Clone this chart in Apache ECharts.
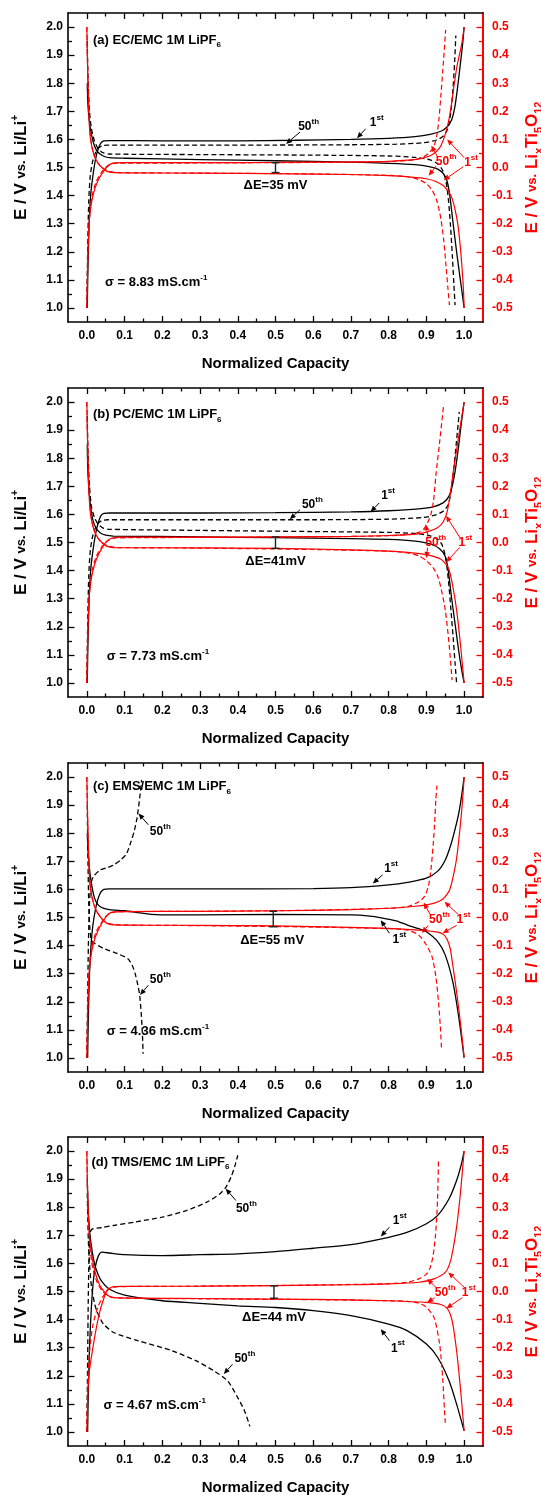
<!DOCTYPE html>
<html>
<head>
<meta charset="utf-8">
<script src="https://cdn.jsdelivr.net/npm/echarts@6/dist/echarts.min.js"></script>
<style>
html, body { margin: 0; padding: 0; background: #fff; }
#chart { width: 541px; height: 1495px; }
</style>
</head>
<body>
<div id="chart"></div>
<script>
// tick values
const xMajor = [0, 0.1, 0.2, 0.3, 0.4, 0.5, 0.6, 0.7, 0.8, 0.9, 1.0];
const xMinor = [0.05, 0.15, 0.25, 0.35, 0.45, 0.55, 0.65, 0.75, 0.85, 0.95];
const leftMajor = [1.0, 1.1, 1.2, 1.3, 1.4, 1.5, 1.6, 1.7, 1.8, 1.9, 2.0];
const leftMinor = [1.05, 1.15, 1.25, 1.35, 1.45, 1.55, 1.65, 1.75, 1.85, 1.95];
const rightMajor = [-0.5, -0.4, -0.3, -0.2, -0.1, 0, 0.1, 0.2, 0.3, 0.4, 0.5];
const rightMinor = [-0.45, -0.35, -0.25, -0.15, -0.05, 0.05, 0.15, 0.25, 0.35, 0.45];

const panelTags = ['(a) EC/EMC 1M LiPF', '(b) PC/EMC 1M LiPF', '(c) EMS/EMC 1M LiPF', '(d) TMS/EMC 1M LiPF'];
const sigmaValues = ['8.83', '7.73', '4.36', '4.67'];
const deltaLabels = ['35 mV', '41mV', '55 mV', '44 mV'];
// [x, low, high] of the dE bar
const deltaBars = [[0.5, 1.482, 1.517], [0.5, 1.479, 1.520], [0.494, 1.467, 1.522], [0.496, 1.476, 1.520]];

// ---- (a) EC/EMC ----  black: E vs Li/Li+, red: E vs LixTi5O12
const a_c1 = [[0.001,1.0],[0.003,1.15],[0.006,1.3],[0.01,1.4],[0.016,1.47],[0.023,1.53],[0.03,1.566],[0.037,1.587],[0.045,1.595],[0.06,1.596],[0.2,1.595],[0.4,1.595],[0.55,1.597],[0.7,1.6],[0.8,1.604],[0.87,1.61],[0.91,1.618],[0.94,1.63],[0.955,1.645],[0.967,1.67],[0.976,1.72],[0.984,1.8],[0.991,1.88],[0.996,1.94],[1.0,2.0]];
const a_d1 = [[0.001,1.8],[0.003,1.72],[0.008,1.65],[0.017,1.59],[0.026,1.56],[0.034,1.549],[0.045,1.54],[0.06,1.535],[0.1,1.533],[0.3,1.528],[0.5,1.524],[0.7,1.519],[0.8,1.515],[0.87,1.51],[0.91,1.502],[0.93,1.494],[0.945,1.478],[0.955,1.45],[0.962,1.4],[0.97,1.31],[0.98,1.2],[0.99,1.1],[1.0,1.0]];
const a_c50 = [[0.0,1.0],[0.002,1.2],[0.005,1.38],[0.009,1.47],[0.015,1.52],[0.022,1.55],[0.03,1.568],[0.04,1.577],[0.055,1.58],[0.2,1.58],[0.5,1.58],[0.7,1.581],[0.82,1.583],[0.89,1.588],[0.925,1.597],[0.945,1.612],[0.957,1.64],[0.965,1.7],[0.971,1.79],[0.975,1.88],[0.978,1.97]];
const a_d50 = [[0.001,1.95],[0.003,1.82],[0.007,1.7],[0.012,1.64],[0.02,1.595],[0.03,1.567],[0.042,1.553],[0.06,1.548],[0.3,1.546],[0.6,1.544],[0.8,1.541],[0.87,1.536],[0.91,1.527],[0.93,1.513],[0.943,1.49],[0.952,1.45],[0.958,1.39],[0.964,1.29],[0.969,1.18],[0.973,1.08],[0.976,1.01]];
const a_rc1 = [[0.0,-0.5],[0.002,-0.35],[0.004,-0.25],[0.007,-0.18],[0.013,-0.12],[0.021,-0.076],[0.03,-0.045],[0.04,-0.022],[0.052,0.0],[0.065,0.014],[0.09,0.017],[0.3,0.017],[0.5,0.018],[0.7,0.02],[0.8,0.022],[0.86,0.027],[0.89,0.033],[0.915,0.045],[0.935,0.07],[0.948,0.11],[0.958,0.16],[0.966,0.22],[0.973,0.29],[0.981,0.36],[0.989,0.41],[0.995,0.45],[1.0,0.5]];
const a_rd1 = [[0.0,0.5],[0.002,0.35],[0.004,0.25],[0.008,0.12],[0.014,0.07],[0.021,0.037],[0.03,0.015],[0.04,0.0],[0.052,-0.013],[0.07,-0.018],[0.3,-0.02],[0.5,-0.022],[0.7,-0.025],[0.8,-0.029],[0.86,-0.034],[0.9,-0.04],[0.925,-0.05],[0.945,-0.065],[0.958,-0.085],[0.968,-0.11],[0.976,-0.15],[0.983,-0.2],[0.989,-0.27],[0.994,-0.35],[0.998,-0.43],[1.0,-0.5]];
const a_rc50 = [[0.0,-0.5],[0.003,-0.3],[0.007,-0.18],[0.014,-0.1],[0.025,-0.05],[0.04,-0.015],[0.055,0.006],[0.075,0.015],[0.3,0.016],[0.6,0.018],[0.8,0.021],[0.86,0.026],[0.89,0.036],[0.905,0.05],[0.918,0.07],[0.927,0.11],[0.933,0.17],[0.938,0.25],[0.943,0.34],[0.947,0.41],[0.951,0.49]];
const a_rd50 = [[0.0,0.5],[0.003,0.3],[0.007,0.15],[0.014,0.07],[0.025,0.025],[0.04,0.0],[0.055,-0.012],[0.08,-0.018],[0.3,-0.02],[0.6,-0.023],[0.8,-0.028],[0.85,-0.033],[0.88,-0.043],[0.9,-0.058],[0.915,-0.08],[0.928,-0.12],[0.938,-0.18],[0.946,-0.26],[0.952,-0.35],[0.957,-0.43],[0.961,-0.49]];

// ---- (b) PC/EMC ----
const b_c1 = [[0.001,1.0],[0.003,1.15],[0.006,1.3],[0.01,1.4],[0.016,1.47],[0.023,1.53],[0.03,1.57],[0.037,1.595],[0.045,1.604],[0.06,1.605],[0.3,1.605],[0.5,1.606],[0.7,1.609],[0.8,1.613],[0.88,1.62],[0.92,1.628],[0.945,1.642],[0.96,1.665],[0.97,1.71],[0.978,1.77],[0.986,1.85],[0.993,1.93],[1.0,2.0]];
const b_d1 = [[0.001,1.85],[0.003,1.74],[0.008,1.65],[0.016,1.58],[0.025,1.55],[0.035,1.535],[0.05,1.526],[0.07,1.523],[0.3,1.52],[0.5,1.517],[0.7,1.514],[0.8,1.511],[0.87,1.505],[0.91,1.495],[0.935,1.478],[0.95,1.45],[0.958,1.4],[0.966,1.31],[0.975,1.22],[0.985,1.12],[0.993,1.05],[1.0,1.0]];
const b_c50 = [[0.0,1.0],[0.002,1.2],[0.005,1.38],[0.009,1.47],[0.015,1.52],[0.022,1.55],[0.03,1.568],[0.04,1.578],[0.055,1.581],[0.3,1.581],[0.6,1.581],[0.8,1.583],[0.89,1.589],[0.925,1.598],[0.945,1.612],[0.958,1.635],[0.966,1.69],[0.973,1.77],[0.979,1.85],[0.984,1.92],[0.987,1.965]];
const b_d50 = [[0.001,1.95],[0.003,1.82],[0.007,1.7],[0.012,1.63],[0.02,1.59],[0.03,1.565],[0.042,1.552],[0.06,1.547],[0.3,1.543],[0.6,1.539],[0.8,1.536],[0.87,1.532],[0.91,1.524],[0.93,1.512],[0.942,1.49],[0.951,1.445],[0.958,1.37],[0.965,1.26],[0.971,1.16],[0.976,1.07],[0.98,1.0]];
const b_rc1 = [[0.0,-0.5],[0.002,-0.35],[0.004,-0.25],[0.007,-0.18],[0.013,-0.12],[0.021,-0.076],[0.03,-0.045],[0.04,-0.02],[0.052,0.003],[0.065,0.015],[0.09,0.019],[0.3,0.019],[0.5,0.02],[0.7,0.022],[0.8,0.025],[0.87,0.03],[0.9,0.037],[0.93,0.053],[0.945,0.075],[0.955,0.11],[0.963,0.17],[0.971,0.25],[0.98,0.33],[0.99,0.416],[1.0,0.5]];
const b_rd1 = [[0.0,0.5],[0.002,0.35],[0.004,0.25],[0.008,0.12],[0.014,0.07],[0.021,0.037],[0.03,0.015],[0.04,0.0],[0.052,-0.013],[0.07,-0.018],[0.3,-0.019],[0.5,-0.021],[0.7,-0.026],[0.8,-0.031],[0.87,-0.038],[0.9,-0.043],[0.925,-0.052],[0.94,-0.061],[0.952,-0.078],[0.96,-0.097],[0.97,-0.156],[0.98,-0.24],[0.99,-0.36],[1.0,-0.5]];
const b_rc50 = [[0.0,-0.5],[0.003,-0.3],[0.007,-0.18],[0.014,-0.1],[0.025,-0.05],[0.04,-0.015],[0.055,0.006],[0.075,0.016],[0.3,0.018],[0.6,0.02],[0.8,0.024],[0.86,0.03],[0.88,0.036],[0.893,0.048],[0.903,0.07],[0.912,0.1],[0.919,0.15],[0.925,0.237],[0.935,0.357],[0.945,0.482]];
const b_rd50 = [[0.0,0.5],[0.003,0.3],[0.007,0.15],[0.014,0.07],[0.025,0.025],[0.04,0.0],[0.055,-0.012],[0.08,-0.018],[0.3,-0.02],[0.6,-0.025],[0.8,-0.031],[0.85,-0.037],[0.88,-0.048],[0.9,-0.065],[0.918,-0.09],[0.93,-0.12],[0.94,-0.17],[0.95,-0.24],[0.96,-0.36],[0.968,-0.49]];

// ---- (c) EMS/EMC ----
const c_c1 = [[0.002,1.0],[0.004,1.15],[0.007,1.3],[0.011,1.4],[0.016,1.473],[0.023,1.53],[0.03,1.568],[0.037,1.59],[0.045,1.6],[0.06,1.602],[0.3,1.602],[0.6,1.603],[0.7,1.606],[0.8,1.616],[0.85,1.625],[0.9,1.64],[0.93,1.665],[0.95,1.705],[0.965,1.76],[0.977,1.82],[0.987,1.88],[0.994,1.94],[1.0,2.0]];
const c_d1 = [[0.001,1.8],[0.004,1.72],[0.01,1.64],[0.02,1.57],[0.03,1.545],[0.04,1.535],[0.06,1.528],[0.1,1.524],[0.15,1.515],[0.2,1.509],[0.3,1.509],[0.5,1.511],[0.7,1.509],[0.75,1.505],[0.78,1.499],[0.82,1.488],[0.85,1.473],[0.88,1.46],[0.9,1.449],[0.93,1.414],[0.95,1.366],[0.97,1.271],[0.985,1.152],[1.0,1.0]];
const c_c50 = [[0.0,1.0],[0.002,1.2],[0.004,1.4],[0.007,1.55],[0.011,1.62],[0.017,1.645],[0.035,1.669],[0.055,1.678],[0.071,1.687],[0.09,1.705],[0.105,1.727],[0.117,1.77],[0.126,1.81],[0.133,1.855],[0.14,1.925],[0.145,1.99]];
const c_d50 = [[0.001,1.9],[0.003,1.7],[0.005,1.55],[0.008,1.46],[0.012,1.42],[0.02,1.408],[0.044,1.39],[0.08,1.372],[0.108,1.354],[0.12,1.33],[0.128,1.3],[0.135,1.26],[0.14,1.224],[0.144,1.16],[0.146,1.117],[0.148,1.06],[0.149,1.015]];
const c_rc1 = [[0.0,-0.5],[0.002,-0.35],[0.004,-0.25],[0.007,-0.18],[0.013,-0.12],[0.021,-0.076],[0.03,-0.045],[0.04,-0.02],[0.052,0.005],[0.065,0.018],[0.09,0.021],[0.3,0.022],[0.5,0.024],[0.7,0.028],[0.8,0.033],[0.87,0.04],[0.9,0.045],[0.925,0.053],[0.94,0.062],[0.952,0.078],[0.962,0.1],[0.97,0.14],[0.98,0.21],[0.99,0.33],[0.996,0.42],[1.0,0.5]];
const c_rd1 = [[0.0,0.5],[0.002,0.35],[0.004,0.25],[0.008,0.12],[0.014,0.07],[0.021,0.037],[0.03,0.013],[0.04,-0.005],[0.052,-0.02],[0.07,-0.026],[0.3,-0.028],[0.5,-0.03],[0.7,-0.035],[0.8,-0.039],[0.87,-0.044],[0.9,-0.047],[0.93,-0.052],[0.945,-0.06],[0.955,-0.078],[0.963,-0.11],[0.97,-0.17],[0.98,-0.265],[0.99,-0.372],[1.0,-0.497]];
const c_rc50 = [[0.0,-0.5],[0.003,-0.3],[0.007,-0.18],[0.014,-0.1],[0.025,-0.05],[0.04,-0.015],[0.055,0.01],[0.075,0.02],[0.3,0.022],[0.6,0.026],[0.8,0.033],[0.85,0.039],[0.88,0.056],[0.895,0.075],[0.905,0.11],[0.912,0.17],[0.918,0.26],[0.922,0.34],[0.925,0.42],[0.928,0.47]];
const c_rd50 = [[0.0,0.5],[0.003,0.3],[0.007,0.15],[0.014,0.07],[0.025,0.025],[0.04,-0.005],[0.055,-0.02],[0.08,-0.026],[0.3,-0.029],[0.6,-0.034],[0.8,-0.04],[0.85,-0.045],[0.88,-0.063],[0.9,-0.098],[0.915,-0.14],[0.925,-0.21],[0.932,-0.3],[0.937,-0.39],[0.94,-0.467]];

// ---- (d) TMS/EMC ----
const d_c1 = [[0.002,1.0],[0.004,1.15],[0.007,1.3],[0.011,1.42],[0.016,1.52],[0.022,1.585],[0.03,1.625],[0.04,1.64],[0.06,1.637],[0.1,1.631],[0.2,1.628],[0.3,1.631],[0.4,1.634],[0.5,1.642],[0.6,1.654],[0.7,1.667],[0.8,1.693],[0.85,1.711],[0.9,1.741],[0.93,1.771],[0.96,1.83],[0.98,1.895],[0.992,1.95],[1.0,2.0]];
const d_d1 = [[0.001,1.9],[0.004,1.78],[0.01,1.68],[0.02,1.6],[0.03,1.56],[0.04,1.535],[0.06,1.508],[0.1,1.487],[0.2,1.467],[0.3,1.458],[0.4,1.449],[0.5,1.443],[0.6,1.432],[0.7,1.414],[0.8,1.384],[0.85,1.36],[0.9,1.313],[0.93,1.265],[0.96,1.182],[0.98,1.099],[1.0,1.004]];
const d_c50 = [[0.0,1.0],[0.002,1.25],[0.004,1.5],[0.007,1.68],[0.012,1.72],[0.04,1.728],[0.071,1.735],[0.13,1.748],[0.2,1.765],[0.263,1.788],[0.318,1.818],[0.35,1.845],[0.368,1.87],[0.383,1.91],[0.393,1.95],[0.4,1.985]];
const d_d50 = [[0.001,1.85],[0.004,1.68],[0.008,1.58],[0.012,1.52],[0.02,1.46],[0.026,1.432],[0.035,1.405],[0.044,1.384],[0.071,1.354],[0.135,1.325],[0.226,1.289],[0.29,1.253],[0.336,1.218],[0.373,1.182],[0.4,1.122],[0.418,1.075],[0.432,1.02]];
const d_rc1 = [[0.0,-0.5],[0.003,-0.35],[0.007,-0.28],[0.016,-0.2],[0.025,-0.13],[0.035,-0.068],[0.045,-0.025],[0.053,0.003],[0.065,0.015],[0.09,0.018],[0.3,0.019],[0.5,0.021],[0.7,0.024],[0.8,0.027],[0.88,0.033],[0.92,0.045],[0.95,0.068],[0.962,0.1],[0.97,0.146],[0.98,0.229],[0.99,0.348],[1.0,0.5]];
const d_rd1 = [[0.0,0.5],[0.003,0.3],[0.009,0.169],[0.018,0.09],[0.026,0.05],[0.035,0.02],[0.044,0.003],[0.055,-0.013],[0.07,-0.022],[0.3,-0.025],[0.5,-0.027],[0.7,-0.03],[0.8,-0.033],[0.9,-0.039],[0.94,-0.047],[0.955,-0.06],[0.963,-0.08],[0.97,-0.116],[0.98,-0.211],[0.99,-0.342],[1.0,-0.496]];
const d_rc50 = [[0.0,-0.5],[0.003,-0.3],[0.008,-0.2],[0.016,-0.12],[0.028,-0.06],[0.042,-0.02],[0.058,0.008],[0.08,0.017],[0.3,0.019],[0.6,0.023],[0.8,0.028],[0.85,0.033],[0.88,0.045],[0.9,0.062],[0.91,0.085],[0.918,0.13],[0.924,0.2],[0.928,0.28],[0.93,0.348],[0.932,0.467]];
const d_rd50 = [[0.0,0.5],[0.003,0.3],[0.008,0.16],[0.016,0.08],[0.028,0.03],[0.042,0.0],[0.058,-0.016],[0.08,-0.023],[0.3,-0.026],[0.6,-0.029],[0.8,-0.033],[0.85,-0.035],[0.88,-0.042],[0.9,-0.056],[0.92,-0.092],[0.935,-0.187],[0.943,-0.306],[0.948,-0.425],[0.95,-0.467]];

const curveSets = [
  [a_c1, a_d1, a_c50, a_d50, a_rc1, a_rd1, a_rc50, a_rd50],
  [b_c1, b_d1, b_c50, b_d50, b_rc1, b_rd1, b_rc50, b_rd50],
  [c_c1, c_d1, c_c50, c_d50, c_rc1, c_rd1, c_rc50, c_rd50],
  [d_c1, d_d1, d_c50, d_d50, d_rc1, d_rd1, d_rc50, d_rd50]
];

// ---------- layout ----------
const RED = '#ff0000';
const FONT = "'Liberation Sans', Arial, sans-serif";
const TOPS = [13, 388, 763, 1137];
const curveLook = [
  { color: '#000', dash: false, right: false },
  { color: '#000', dash: false, right: false },
  { color: '#000', dash: true, right: false },
  { color: '#000', dash: true, right: false },
  { color: RED, dash: false, right: true },
  { color: RED, dash: false, right: true },
  { color: RED, dash: true, right: true },
  { color: RED, dash: true, right: true }
];

// annotation placement, in data units of the left axis: [x, y, kind, color, align]
const notes = [
  {
    texts: [[0.016, 1.953, 'tag', '#000', 'left'], [0.048, 1.09, 'sigma', '#000', 'left'], [0.5, 1.436, 'dE', '#000', 'center'],
            [0.56, 1.645, '50', '#000', 'left'], [0.75, 1.66, '1', '#000', 'left'],
            [0.925, 1.521, '50', RED, 'left'], [1.0, 1.517, '1', RED, 'left']],
    arrows: [[0.565, 1.626, 0.528, 1.584, '#000'], [0.739, 1.638, 0.716, 1.604, '#000'],
             [0.93, 1.537, 0.913, 1.578, RED], [0.926, 1.506, 0.906, 1.471, RED],
             [1.0, 1.535, 0.955, 1.6, RED], [0.998, 1.503, 0.946, 1.455, RED]]
  },
  {
    texts: [[0.016, 1.955, 'tag', '#000', 'left'], [0.053, 1.093, 'sigma', '#000', 'left'], [0.5, 1.433, 'dE', '#000', 'center'],
            [0.57, 1.635, '50', '#000', 'left'], [0.78, 1.666, '1', '#000', 'left'],
            [0.897, 1.498, '50', RED, 'left'], [0.985, 1.498, '1', RED, 'left']],
    arrows: [[0.565, 1.617, 0.538, 1.583, '#000'], [0.775, 1.641, 0.752, 1.609, '#000'],
             [0.905, 1.515, 0.898, 1.565, RED], [0.903, 1.482, 0.9, 1.445, RED],
             [0.99, 1.515, 0.952, 1.595, RED], [0.988, 1.482, 0.952, 1.43, RED]]
  },
  {
    texts: [[0.016, 1.967, 'tag', '#000', 'left'], [0.053, 1.093, 'sigma', '#000', 'left'], [0.491, 1.42, 'dE', '#000', 'center'],
            [0.167, 1.806, '50', '#000', 'left'], [0.167, 1.277, '50', '#000', 'left'],
            [0.788, 1.675, '1', '#000', 'left'], [0.81, 1.42, '1', '#000', 'left'],
            [0.907, 1.491, '50', RED, 'left'], [0.98, 1.491, '1', RED, 'left']],
    arrows: [[0.163, 1.83, 0.137, 1.87, '#000'], [0.163, 1.259, 0.141, 1.224, '#000'],
             [0.784, 1.652, 0.758, 1.621, '#000'], [0.802, 1.444, 0.779, 1.49, '#000'],
             [0.91, 1.51, 0.893, 1.553, RED], [0.905, 1.472, 0.888, 1.445, RED],
             [0.985, 1.51, 0.948, 1.556, RED], [0.98, 1.472, 0.943, 1.444, RED]]
  },
  {
    texts: [[0.012, 1.961, 'tag', '#000', 'left'], [0.044, 1.093, 'sigma', '#000', 'left'], [0.496, 1.408, 'dE', '#000', 'center'],
            [0.395, 1.794, '50', '#000', 'left'], [0.391, 1.262, '50', '#000', 'left'],
            [0.811, 1.753, '1', '#000', 'left'], [0.806, 1.298, '1', '#000', 'left'],
            [0.922, 1.497, '50', RED, 'left'], [0.994, 1.497, '1', RED, 'left']],
    arrows: [[0.395, 1.824, 0.368, 1.866, '#000'], [0.386, 1.241, 0.363, 1.206, '#000'],
             [0.802, 1.729, 0.779, 1.696, '#000'], [0.802, 1.325, 0.779, 1.366, '#000'],
             [0.925, 1.515, 0.902, 1.545, RED], [0.922, 1.478, 0.902, 1.461, RED],
             [1.0, 1.515, 0.958, 1.568, RED], [0.995, 1.478, 0.953, 1.44, RED]]
  }
];

function noteText(k, kind) {
  if (kind === 'tag') return '{t|' + panelTags[k] + '}{s|6}';
  if (kind === 'sigma') return '{t|σ = ' + sigmaValues[k] + ' mS.cm}{p|-1}';
  if (kind === 'dE') return '{t|ΔE=' + deltaLabels[k] + '}';
  if (kind === '50') return '{o|50}{p|th}';
  return '{o|1}{p|st}';
}

function noteRich(color) {
  const base = { fontFamily: FONT, fontWeight: 'bold', fill: color };
  return {
    t: Object.assign({ fontSize: 13, lineHeight: 18 }, base),
    o: Object.assign({ fontSize: 12, lineHeight: 18 }, base),
    s: Object.assign({ fontSize: 8, lineHeight: 8, verticalAlign: 'bottom' }, base),
    p: Object.assign({ fontSize: 8, lineHeight: 8, verticalAlign: 'top' }, base)
  };
}

const labelFont = { fontFamily: FONT, fontWeight: 'bold', fontSize: 12 };

function xAxisDef(k, pos, major) {
  const showLabels = major && pos === 'bottom';
  return {
    gridIndex: k, type: 'value', position: pos, min: -0.05, max: 1.05,
    axisLine: { show: major, onZero: false, lineStyle: { color: '#000', width: 1.6 } },
    axisTick: { show: true, inside: true, length: major ? 6 : 3.5, customValues: major ? xMajor : xMinor,
                lineStyle: { color: '#000', width: 1.3 } },
    axisLabel: Object.assign({ show: showLabels, customValues: xMajor, margin: 8, color: '#000',
                formatter: v => v.toFixed(1) }, labelFont),
    splitLine: { show: false },
    name: showLabels ? 'Normalized Capacity' : '',
    nameLocation: 'middle', nameGap: 34,
    nameTextStyle: { fontFamily: FONT, fontWeight: 'bold', fontSize: 15, color: '#000' }
  };
}

function yAxisDef(k, side, major) {
  const right = side === 'right';
  const color = right ? RED : '#000';
  const y = {
    gridIndex: k, type: 'value', position: side,
    min: right ? -0.55 : 0.95, max: right ? 0.55 : 2.05,
    axisLine: { show: major, onZero: false, lineStyle: { color: color, width: right ? 2 : 1.6 } },
    axisTick: { show: true, inside: true, length: major ? 6.5 : 4,
                customValues: major ? (right ? rightMajor : leftMajor) : (right ? rightMinor : leftMinor),
                lineStyle: { color: color, width: 1.3 } },
    axisLabel: Object.assign({ show: major, customValues: right ? rightMajor : leftMajor,
                margin: right ? 9 : 5, color: color, formatter: v => v.toFixed(1) }, labelFont),
    splitLine: { show: false }
  };
  if (major) {
    y.nameLocation = 'middle';
    y.nameRotate = 90;
    if (right) {
      y.name = '{a|E / V }{v|vs.}{a| Li}{b|x}{a|Ti}{b|5}{a|O}{b|12}';
      y.nameGap = 31;
      y.nameTextStyle = { color: RED, rich: {
        a: { fontFamily: FONT, fontWeight: 'bold', fontSize: 17, color: RED, lineHeight: 24 },
        v: { fontFamily: FONT, fontWeight: 'bold', fontSize: 13, color: RED, lineHeight: 24 },
        b: { fontFamily: FONT, fontWeight: 'bold', fontSize: 11, color: RED, lineHeight: 11, verticalAlign: 'bottom' }
      } };
    } else {
      y.name = '{a|E / V }{v|vs.}{a| Li/Li}{p|+}';
      y.nameGap = 36;
      y.nameTextStyle = { color: '#000', rich: {
        a: { fontFamily: FONT, fontWeight: 'bold', fontSize: 17, color: '#000', lineHeight: 22 },
        v: { fontFamily: FONT, fontWeight: 'bold', fontSize: 13, color: '#000', lineHeight: 22 },
        p: { fontFamily: FONT, fontWeight: 'bold', fontSize: 10, color: '#000', lineHeight: 10, verticalAlign: 'top' }
      } };
    }
  }
  return y;
}

const grids = [], xAxes = [], yAxes = [], series = [];

curveSets.forEach((curves, k) => {
  grids.push({ left: 68, right: 58, top: TOPS[k], height: 309, containLabel: false, outerBoundsMode: 'none' });
  xAxes.push(xAxisDef(k, 'bottom', true), xAxisDef(k, 'bottom', false),
             xAxisDef(k, 'top', true), xAxisDef(k, 'top', false));
  yAxes.push(yAxisDef(k, 'left', true), yAxisDef(k, 'left', false),
             yAxisDef(k, 'right', true), yAxisDef(k, 'right', false));
  const xi = 4 * k, yl = 4 * k, yr = 4 * k + 2;

  curves.forEach((data, i) => {
    const look = curveLook[i];
    series.push({
      type: 'line', xAxisIndex: xi, yAxisIndex: look.right ? yr : yl,
      data: data, symbol: 'none', smooth: 0.25, silent: true,
      lineStyle: { color: look.color, width: look.right ? 1.2 : 1.3, type: look.dash ? [5, 3] : 'solid' },
      z: look.right ? 3 : 2
    });
  });

  // dE bar
  series.push({
    type: 'custom', xAxisIndex: xi, yAxisIndex: yl, data: [deltaBars[k]], silent: true, z: 5,
    renderItem: (params, api) => {
      const hi = api.coord([api.value(0), api.value(2)]);
      const lo = api.coord([api.value(0), api.value(1)]);
      const st = { stroke: '#222', lineWidth: 1.4 };
      return { type: 'group', children: [
        { type: 'line', shape: { x1: hi[0], y1: hi[1], x2: lo[0], y2: lo[1] }, style: st },
        { type: 'line', shape: { x1: hi[0] - 4, y1: hi[1], x2: hi[0] + 4, y2: hi[1] }, style: st },
        { type: 'line', shape: { x1: lo[0] - 4, y1: lo[1], x2: lo[0] + 4, y2: lo[1] }, style: st }
      ] };
    }
  });

  // texts
  const nt = notes[k].texts;
  series.push({
    type: 'custom', xAxisIndex: xi, yAxisIndex: yl, silent: true, z: 6,
    data: nt.map(n => [n[0], n[1]]),
    renderItem: (params, api) => {
      const n = nt[params.dataIndex];
      const pt = api.coord([api.value(0), api.value(1)]);
      return { type: 'text', x: pt[0], y: pt[1], style: {
        text: noteText(k, n[2]), rich: noteRich(n[3]), fill: n[3],
        align: n[4], verticalAlign: 'middle', font: 'bold 13px ' + FONT } };
    }
  });

  // arrows
  const na = notes[k].arrows;
  series.push({
    type: 'custom', xAxisIndex: xi, yAxisIndex: yl, silent: true, z: 6,
    data: na.map(a => [a[0], a[1], a[2], a[3]]),
    renderItem: (params, api) => {
      const col = na[params.dataIndex][4];
      const p1 = api.coord([api.value(0), api.value(1)]);
      const p2 = api.coord([api.value(2), api.value(3)]);
      const ang = Math.atan2(p2[1] - p1[1], p2[0] - p1[0]);
      const L = 6, W = 2.6;
      const bx = p2[0] - L * Math.cos(ang), by = p2[1] - L * Math.sin(ang);
      const nx = -Math.sin(ang) * W, ny = Math.cos(ang) * W;
      return { type: 'group', children: [
        { type: 'line', shape: { x1: p1[0], y1: p1[1], x2: bx, y2: by }, style: { stroke: col, lineWidth: 1 } },
        { type: 'polygon', shape: { points: [[p2[0], p2[1]], [bx + nx, by + ny], [bx - nx, by - ny]] }, style: { fill: col } }
      ] };
    }
  });
});

const chart = echarts.init(document.getElementById('chart'), null, { renderer: 'canvas' });
chart.setOption({
  animation: false,
  backgroundColor: '#fff',
  grid: grids,
  xAxis: xAxes,
  yAxis: yAxes,
  series: series
});
</script>
</body>
</html>
